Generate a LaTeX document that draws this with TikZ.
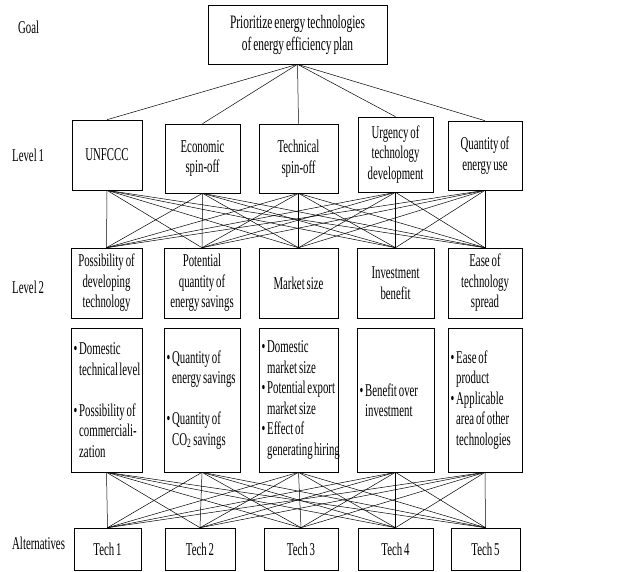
\documentclass[tikz,border=0pt]{standalone}
\usepackage{fontspec}
\setmainfont{Liberation Serif}[FakeStretch=0.6, WordSpace=0.7]
\hyphenpenalty=10000
\exhyphenpenalty=10000
\newcommand{\bitem}{\textbullet~}
\newcommand{\bcont}{\hphantom{\textbullet~}}
\tikzset{
  box/.style={draw, line width=0.6pt, align=center, inner sep=3pt,
    font=\fontsize{18}{20.5}\selectfont},
  detail/.style={box, align=flush left, inner xsep=2.5pt, minimum height=144pt},
  lvl/.style={anchor=west, inner sep=0pt, font=\fontsize{18}{20.5}\selectfont},
  link/.style={line width=0.5pt}
}
\begin{document}
\begin{tikzpicture}[x=1pt, y=-1pt]
\useasboundingbox (0,0) rectangle (623,571);

\node [lvl] (lgoal) at (18,27) {Goal};
\node [lvl] (lone) at (12,155) {Level 1};
\node [lvl] (ltwo) at (12,287) {Level 2};
\node [lvl] (lalt) at (12,543) {Alternatives};

\node [box, minimum width=179pt, minimum height=59pt, font=\fontsize{19}{22}\selectfont] (goal) at (297.5,34.5) {Prioritize energy technologies\\of energy efficiency plan};

\node [box, minimum width=70pt, minimum height=70pt] (unfccc) at (107,155) {UNFCCC};
\node [box, minimum width=75pt, minimum height=69pt] (econ) at (202.5,158.5) {Economic\\spin-off};
\node [box, minimum width=79pt, minimum height=69pt] (techn) at (298.5,158.5) {Technical\\spin-off};
\node [box, minimum width=75pt, minimum height=75pt] (urgency) at (395.5,154.5) {Urgency of\\technology\\development};
\node [box, minimum width=74pt, minimum height=69pt] (quantity) at (485,155.5) {Quantity of\\energy use};

\node [box, minimum width=71pt, minimum height=70pt] (possib) at (106.5,283) {Possibility of\\developing\\technology};
\node [box, minimum width=76pt, minimum height=70pt] (potent) at (202,283) {Potential\\quantity of\\energy savings};
\node [box, minimum width=79pt, minimum height=70pt] (market) at (298.5,283) {Market size};
\node [box, minimum width=77pt, minimum height=70pt] (invest) at (395.5,283) {Investment\\benefit};
\node [box, minimum width=74pt, minimum height=70pt] (ease) at (485,283) {Ease of\\technology\\spread};

\node [detail, text width=66pt] (da) at (106.5,400) {\bitem Domestic\\\bcont technical~level\\[20.5pt]\bitem Possibility~of\\\bcont commerciali-\\\bcont zation};
\node [detail, text width=71pt] (db) at (202,400) {\bitem Quantity~of\\\bcont energy~savings\\[20.5pt]\bitem Quantity~of\\\bcont CO\textsubscript{2}~savings};
\node [detail, text width=74pt] (dc) at (298.5,400) {\bitem Domestic\\\bcont market~size\\\bitem Potential~export\\\bcont market~size\\\bitem Effect~of\\\bcont generating~hiring};
\node [detail, text width=72pt] (dd) at (395.5,400) {\bitem Benefit~over\\\bcont investment};
\node [detail, text width=69pt] (de) at (485,400) {\bitem Ease~of\\\bcont product\\\bitem Applicable\\\bcont area~of~other\\\bcont technologies};

\node [box, minimum width=67pt, minimum height=42pt] (t1) at (107.5,549) {Tech 1};
\node [box, minimum width=70pt, minimum height=42pt] (t2) at (200,549) {Tech 2};
\node [box, minimum width=74pt, minimum height=42pt] (t3) at (301,549) {Tech 3};
\node [box, minimum width=75pt, minimum height=42pt] (t4) at (395.5,549) {Tech 4};
\node [box, minimum width=69pt, minimum height=42pt] (t5) at (485.5,549) {Tech 5};

\path [-, link] (goal.south) edge (unfccc.north) edge (econ.north) edge (techn.north) edge (urgency.north) edge (quantity.north);

\path [-, link] (unfccc.south) edge (possib.north) edge (potent.north) edge (market.north) edge (invest.north) edge (ease.north);
\path [-, link] (econ.south) edge (possib.north) edge (potent.north) edge (market.north) edge (invest.north) edge (ease.north);
\path [-, link] (techn.south) edge (possib.north) edge (potent.north) edge (market.north) edge (invest.north) edge (ease.north);
\path [-, link] (urgency.south) edge (possib.north) edge (potent.north) edge (market.north) edge (invest.north) edge (ease.north);
\path [-, link] (quantity.south) edge (possib.north) edge (potent.north) edge (market.north) edge (invest.north) edge (ease.north);

\path [-, link] (da.south) edge (t1.north) edge (t2.north) edge (t3.north) edge (t4.north) edge (t5.north);
\path [-, link] (db.south) edge (t1.north) edge (t2.north) edge (t3.north) edge (t4.north) edge (t5.north);
\path [-, link] (dc.south) edge (t1.north) edge (t2.north) edge (t3.north) edge (t4.north) edge (t5.north);
\path [-, link] (dd.south) edge (t1.north) edge (t2.north) edge (t3.north) edge (t4.north) edge (t5.north);
\path [-, link] (de.south) edge (t1.north) edge (t2.north) edge (t3.north) edge (t4.north) edge (t5.north);
\end{tikzpicture}
\end{document}
